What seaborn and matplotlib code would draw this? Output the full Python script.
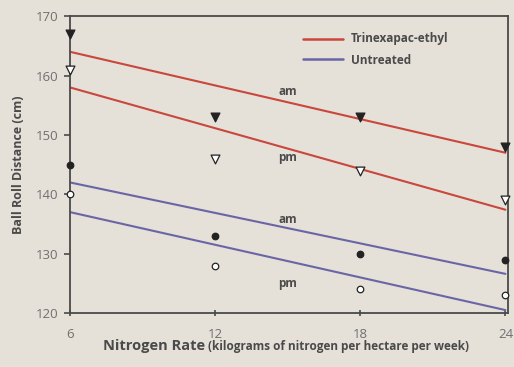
import pandas as pd
import numpy as np
import matplotlib.pyplot as plt
import seaborn as sns

# values
rates = [6, 12, 18, 24]
trin_am = [167, 153, 153, 148]
trin_pm = [161, 146, 144, 139]
untr_am = [145, 133, 130, 129]
untr_pm = [140, 128, 124, 123]

# fitted trend lines (value at rate 6 and rate 24)
fit_rates = [6, 24]
trin_am_fit = [164, 147]
trin_pm_fit = [158, 137.4]
untr_am_fit = [142, 126.6]
untr_pm_fit = [137, 120.5]

bg = '#e5e0d8'
ink = '#4a4a4a'
red = '#c9473d'
blue = '#6a66a6'

sns.set_theme(style="ticks")
plt.rcParams['font.family'] = ['Open Sans', 'DejaVu Sans']

fig = plt.figure(figsize=(5.14, 3.67), dpi=100, facecolor=bg)
ax = fig.add_axes([0.136, 0.147, 0.852, 0.809])
ax.set_facecolor(bg)

lines = pd.DataFrame({
    'rate': fit_rates * 4,
    'value': trin_am_fit + trin_pm_fit + untr_am_fit + untr_pm_fit,
    'grp': ['ta'] * 2 + ['tp'] * 2 + ['ua'] * 2 + ['up'] * 2,
})
pal = {'ta': red, 'tp': red, 'ua': blue, 'up': blue}
sns.lineplot(data=lines, x='rate', y='value', hue='grp', palette=pal,
             linewidth=1.5, legend=False, ax=ax)

pts = [(trin_am, 'v', 'filled'), (trin_pm, 'v', 'open'),
       (untr_am, 'o', 'filled'), (untr_pm, 'o', 'open')]
for vals, mk, fill in pts:
    fc = '#222222' if fill == 'filled' else 'white'
    size = 40 if mk == 'v' else 22
    sns.scatterplot(x=rates, y=vals, marker=mk, s=size, color=fc,
                    edgecolor='#222222', linewidth=0.9, ax=ax, zorder=5)
for c in ax.collections:
    c.set_clip_on(False)

# am / pm labels
for yv, t in [(157.3, 'am'), (146.2, 'pm'), (135.7, 'am'), (125, 'pm')]:
    ax.text(15, yv, t, fontsize=8.5, fontweight='bold', color=ink,
            ha='center', va='center')

# legend
ax.plot([15.65, 17.3], [166.2, 166.2], color=red, lw=1.8)
ax.plot([15.65, 17.3], [162.8, 162.8], color=blue, lw=1.8)
ax.text(17.6, 166.3, 'Trinexapac-ethyl', fontsize=8.5, fontweight='bold',
        color=ink, va='center')
ax.text(17.6, 162.6, 'Untreated', fontsize=8.5, fontweight='bold',
        color=ink, va='center')

ax.set_xlim(6, 24.1)
ax.set_ylim(120, 170)
ax.set_xticks(rates)
ax.set_yticks([120, 130, 140, 150, 160, 170])
ax.tick_params(axis='y', direction='out', length=4, width=1.2, color=ink,
               labelcolor='#707070', labelsize=9.5, pad=4)
ax.tick_params(axis='x', direction='inout', length=5, width=1.2, color=ink,
               labelcolor='#707070', labelsize=9.5, pad=8)
for s in ax.spines.values():
    s.set_color(ink)
    s.set_linewidth(1.3)

ax.set_ylabel('Ball Roll Distance (cm)', fontsize=9, fontweight='bold',
              color=ink, labelpad=8)
ax.set_xlabel('')
fig.text(0.200, 0.058, 'Nitrogen Rate', fontsize=10.5, fontweight='bold',
         color=ink, ha='left', va='center')
fig.text(0.405, 0.056, '(kilograms of nitrogen per hectare per week)',
         fontsize=8.5, fontweight='bold', color=ink, ha='left', va='center')

fig.savefig('out.png', dpi=100, facecolor=bg)
